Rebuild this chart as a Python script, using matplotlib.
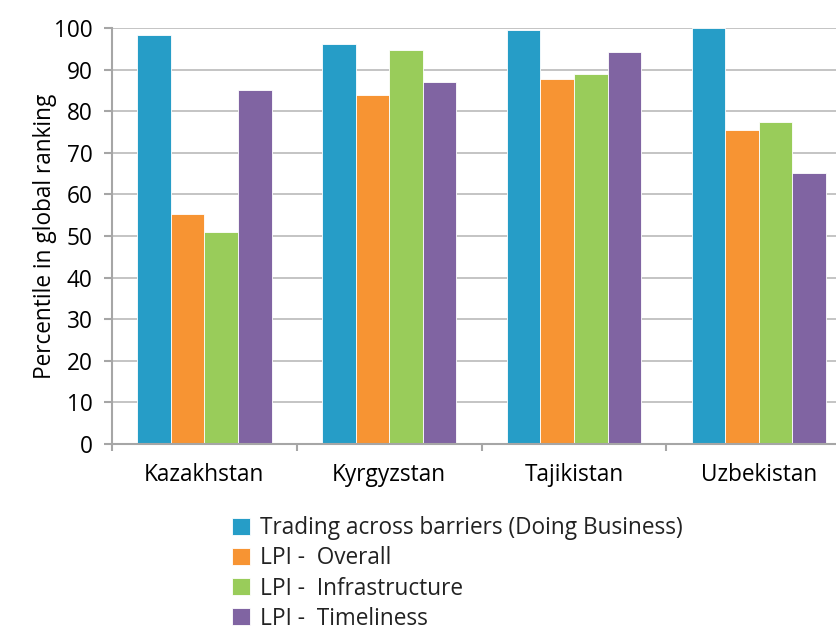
import matplotlib.pyplot as plt
import numpy as np

countries = ['Kazakhstan', 'Kyrgyzstan', 'Tajikistan', 'Uzbekistan']
series = ['Trading across barriers (Doing Business)', 'LPI -  Overall',
          'LPI -  Infrastructure', 'LPI -  Timeliness']
trading = [98.3, 96.2, 99.4, 100.0]
lpi_overall = [55.4, 83.8, 87.7, 75.4]
lpi_infra = [50.9, 94.8, 88.9, 77.3]
lpi_time = [85.1, 87.0, 94.2, 65.1]
colors = ['#269DC7', '#F79433', '#99CC5A', '#8064A2']
yticks = list(range(0, 101, 10))

plt.rcParams['font.family'] = ['Open Sans', 'DejaVu Sans']
plt.rcParams['font.size'] = 16.3
plt.rcParams['text.color'] = '#222222'

fig = plt.figure(figsize=(8.37, 6.31), dpi=100)
ax = fig.add_axes([112 / 837, 187 / 631, 739.2 / 837, 416 / 631])

x = np.arange(len(countries))
w = 0.182
for k, (vals, lab, col) in enumerate(zip([trading, lpi_overall, lpi_infra, lpi_time], series, colors)):
    ax.bar(x + (k - 1.5) * w, vals, w, color=col, edgecolor='white',
           linewidth=0.6, label=lab, zorder=3)

ax.set_xlim(-0.5, len(countries) - 0.5)
ax.set_ylim(0, 100)
ax.set_yticks(yticks)
ax.set_xticks(x)
ax.set_xticklabels(countries)
ax.set_xticks(np.arange(-0.5, len(countries), 1), minor=True)
ax.tick_params(axis='x', which='major', length=0, pad=14)
ax.tick_params(axis='x', which='minor', length=5, width=1.5, color='#A6A6A6')
ax.tick_params(axis='y', length=6, width=1.5, color='#A6A6A6', pad=8)
ax.grid(axis='y', color='#B4B4B4', linewidth=1.1, zorder=0)
for s in ['top', 'right']:
    ax.spines[s].set_visible(False)
for s in ['left', 'bottom']:
    ax.spines[s].set_color('#A6A6A6')
    ax.spines[s].set_linewidth(1.5)
    ax.spines[s].set_zorder(4)
ax.set_ylabel('Percentile in global ranking', labelpad=-2)

fig.legend(loc='upper left', bbox_to_anchor=(221 / 837, 1 - 505 / 631),
           frameon=False, handlelength=0.78, handleheight=0.78,
           handletextpad=0.45, labelspacing=0.27, borderpad=0)

fig.savefig('out.png', dpi=100)
